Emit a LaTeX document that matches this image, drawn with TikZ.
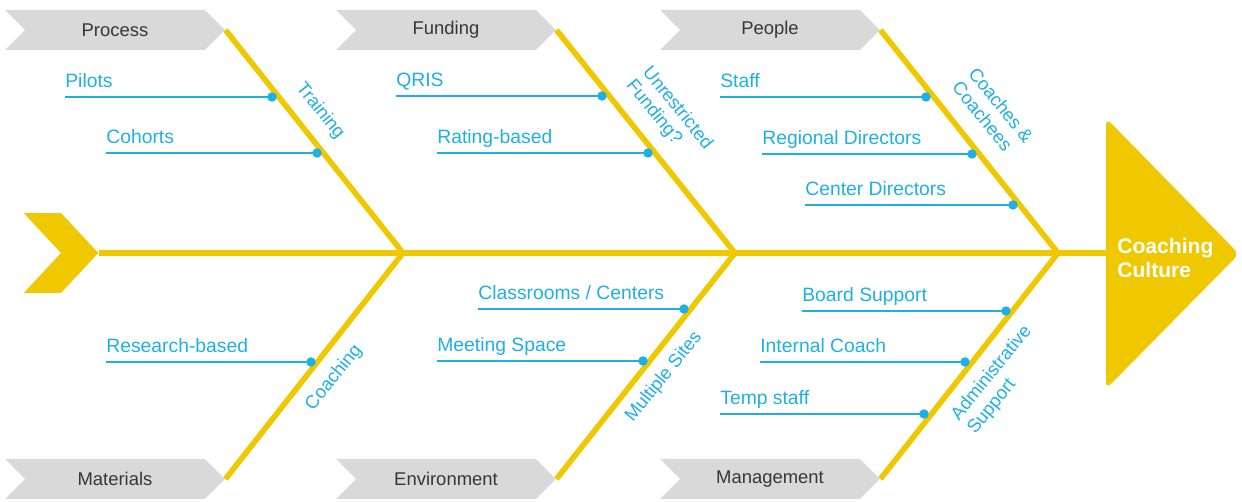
\documentclass[tikz,border=0pt]{standalone}
\usepackage{fontspec}
\setmainfont{Liberation Sans}
\usepackage{tikz}
\usetikzlibrary{shapes.symbols}

\definecolor{fishy}{RGB}{240,200,0}
\definecolor{twigblue}{RGB}{30,176,228}
\definecolor{boxgray}{RGB}{217,217,217}
\definecolor{textgray}{RGB}{55,55,55}

\begin{document}
\begin{tikzpicture}[x=0.02cm,y=-0.02cm,
    bone/.style={draw=fishy,line width=3.2pt},
    twig/.style={draw=twigblue,line width=0.8pt},
    dot/.style={fill=twigblue},
    cat/.style={shape=signal,signal to=east,signal from=west,signal pointer angle=90,
        fill=boxgray,minimum width=4.4cm,minimum height=0.8cm,inner sep=0pt,
        text=textgray,font=\fontsize{10.5}{12}\selectfont},
    item/.style={anchor=south west,inner xsep=0pt,inner ysep=5pt,text depth=0pt,
        text=twigblue,font=\fontsize{11}{13}\selectfont},
    cause/.style={text=twigblue,align=left,inner sep=0pt,font=\fontsize{10.5}{12}\selectfont}]
    \useasboundingbox (0,0) rectangle (1242,502);

    % 鱼尾、鱼头
    \node[shape=signal,signal to=east,signal from=west,signal pointer angle=94,
        fill=fishy,minimum width=1.44cm,minimum height=1.6cm,inner sep=0pt] (tail) at (61,253) {};
    \fill[fishy,rounded corners=4pt] (1106,118) -- (1239,254) -- (1106,389) -- cycle;
    \node[anchor=west,align=left,inner sep=0pt,text=white,font=\fontsize{12}{13.5}\selectfont\bfseries]
        (effect) at (1117,258) {Coaching\\Culture};
    \coordinate (head) at (1112,253);

    % 主骨
    \coordinate (j1) at (403,253);
    \coordinate (j2) at (735,253);
    \coordinate (j3) at (1058,253);
    \draw[bone] (tail.east) -- (head);

    % 分类标签
    \node[cat] (process) at (115,30) {Process};
    \node[cat] (funding) at (446,30) {Funding};
    \node[cat] (people) at (770,30) {People};
    \node[cat] (materials) at (115,479) {Materials};
    \node[cat] (environment) at (446,479) {Environment};
    \node[cat] (management) at (770,479) {Management};

    % 斜骨
    \draw[bone] (process.east) -- (j1) -- (materials.east);
    \draw[bone] (funding.east) -- (j2) -- (environment.east);
    \draw[bone] (people.east) -- (j3) -- (management.east);

    \node[cause,rotate=-51] (training) at (320,111) {Training};
    \node[cause,rotate=-51] (unrestricted) at (669,115) {Unrestricted\\Funding?};
    \node[cause,rotate=-51] (coaches) at (993,112) {Coaches \&\\Coachees};
    \node[cause,rotate=51] (coaching) at (334,378) {Coaching};
    \node[cause,rotate=51] (sites) at (664,377) {Multiple Sites};
    \node[cause,rotate=51] (admin) at (1000,380) {Administrative\\Support};

    % 小骨
    \coordinate (pilotsdot) at (272,97);
    \coordinate (cohortsdot) at (317,153);
    \coordinate (qrisdot) at (602,96);
    \coordinate (ratingdot) at (648,153);
    \coordinate (staffdot) at (926,97);
    \coordinate (regionaldot) at (972,154);
    \coordinate (centerdot) at (1013,205);
    \coordinate (researchdot) at (311,362);
    \coordinate (classroomsdot) at (684,309);
    \coordinate (meetingdot) at (643,361);
    \coordinate (boarddot) at (1006,311);
    \coordinate (internaldot) at (965,362);
    \coordinate (tempdot) at (924,414);

    \node[item] (pilots) at (65,97) {Pilots};
    \node[item] (cohorts) at (106,153) {Cohorts};
    \node[item] (qris) at (396,96) {QRIS};
    \node[item] (rating) at (437,153) {Rating-based};
    \node[item] (staff) at (720,97) {Staff};
    \node[item] (regional) at (762,154) {Regional Directors};
    \node[item] (center) at (805,205) {Center Directors};
    \node[item] (research) at (106,362) {Research-based};
    \node[item] (classrooms) at (478,309) {Classrooms / Centers};
    \node[item] (meeting) at (437,361) {Meeting Space};
    \node[item] (board) at (802,311) {Board Support};
    \node[item] (internal) at (760,362) {Internal Coach};
    \node[item] (temp) at (720,414) {Temp staff};

    \draw[twig] (pilots.south west) -- (pilotsdot);
    \draw[twig] (cohorts.south west) -- (cohortsdot);
    \draw[twig] (qris.south west) -- (qrisdot);
    \draw[twig] (rating.south west) -- (ratingdot);
    \draw[twig] (staff.south west) -- (staffdot);
    \draw[twig] (regional.south west) -- (regionaldot);
    \draw[twig] (center.south west) -- (centerdot);
    \draw[twig] (research.south west) -- (researchdot);
    \draw[twig] (classrooms.south west) -- (classroomsdot);
    \draw[twig] (meeting.south west) -- (meetingdot);
    \draw[twig] (board.south west) -- (boarddot);
    \draw[twig] (internal.south west) -- (internaldot);
    \draw[twig] (temp.south west) -- (tempdot);

    \foreach \d in {pilotsdot,cohortsdot,qrisdot,ratingdot,staffdot,regionaldot,centerdot,
        researchdot,classroomsdot,meetingdot,boarddot,internaldot,tempdot}
        \fill[dot] (\d) circle (2.7pt);
\end{tikzpicture}
\end{document}
